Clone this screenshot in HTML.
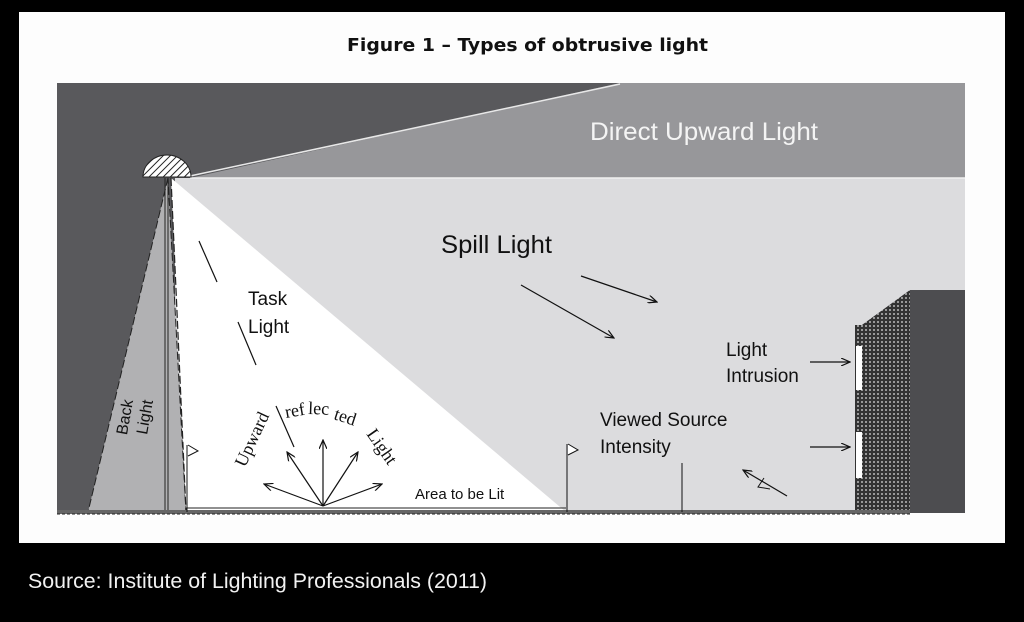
<!DOCTYPE html>
<html><head><meta charset="utf-8"><style>
html,body{margin:0;padding:0;background:#000;}
svg{display:block}
</style></head><body>
<svg width="1024" height="622" viewBox="0 0 1024 622" xmlns="http://www.w3.org/2000/svg" font-family="Liberation Sans, sans-serif">
<defs>
<pattern id="hatch" width="5" height="5" patternUnits="userSpaceOnUse" patternTransform="rotate(45)">
<rect width="5" height="5" fill="#fff"/><line x1="0" y1="0" x2="0" y2="5" stroke="#222" stroke-width="2"/></pattern>
<pattern id="brick" width="4" height="4" patternUnits="userSpaceOnUse">
<rect width="4" height="4" fill="#333"/><rect x="1" y="1" width="2" height="2" fill="#999"/></pattern>
<marker id="ah" markerWidth="10" markerHeight="8" refX="9" refY="4" orient="auto" markerUnits="userSpaceOnUse">
<path d="M0,0 L9,4 L0,8" fill="none" stroke="#111" stroke-width="1.2"/></marker>
</defs>
<rect x="0" y="0" width="1024" height="622" fill="#000"/>
<rect x="19" y="12" width="986" height="531" fill="#fdfdfd"/>
<text x="347" y="51" textLength="361" lengthAdjust="spacingAndGlyphs" font-family="DejaVu Sans Condensed, DejaVu Sans, sans-serif" font-weight="bold" font-size="18" fill="#111">Figure 1 – Types of obtrusive light</text>
<rect x="57" y="83" width="908" height="430" fill="#59595c"/>
<polygon points="190,178 620,83 965,83 965,178" fill="#97979a"/>
<line x1="190" y1="176" x2="620" y2="84" stroke="#e8e8e8" stroke-width="1.5"/>
<polygon points="175,178 965,178 965,290 910,290 862,325 855,325 855,513 175,513" fill="#dcdcde"/>
<line x1="190" y1="178" x2="965" y2="178" stroke="#f0f0f0" stroke-width="1.5"/>
<polygon points="168,178 88,512 186,512" fill="#b1b1b3" stroke="#222" stroke-width="1" stroke-dasharray="8,3"/>
<polygon points="171,178 186,512 566,512" fill="#ffffff"/>
<line x1="171" y1="178" x2="186" y2="512" stroke="#222" stroke-width="1.2" stroke-dasharray="8,3"/>
<line x1="165" y1="178" x2="165" y2="512" stroke="#222" stroke-width="1"/>
<line x1="168" y1="178" x2="168" y2="512" stroke="#222" stroke-width="1"/>
<path d="M143,177 A24,22 0 0 1 191,177 Z" fill="url(#hatch)" stroke="#222" stroke-width="1"/>
<line x1="199" y1="241" x2="217" y2="282" stroke="#111" stroke-width="1.2"/>
<line x1="238" y1="322" x2="256" y2="365" stroke="#111" stroke-width="1.2"/>
<line x1="276" y1="406" x2="294" y2="447" stroke="#111" stroke-width="1.2"/>
<rect x="910" y="290" width="55" height="223" fill="#4d4d50"/>
<polygon points="855,325 862,325 910,290 910,513 855,513" fill="url(#brick)"/>
<rect x="856" y="346" width="6" height="44" fill="#fff"/>
<rect x="856" y="432" width="6" height="46" fill="#fff"/>
<rect x="57" y="510" width="853" height="4" fill="#666"/>
<line x1="186" y1="508" x2="566" y2="508" stroke="#222" stroke-width="1"/>
<line x1="57" y1="514" x2="910" y2="514" stroke="#222" stroke-width="1" stroke-dasharray="3,2"/>
<line x1="187" y1="445" x2="187" y2="512" stroke="#111"/>
<path d="M188,445 L198,451 L188,456" fill="#fff" stroke="#111"/>
<line x1="567" y1="444" x2="567" y2="512" stroke="#111"/>
<path d="M568,444 L578,450 L568,455" fill="#fff" stroke="#111"/>
<line x1="682" y1="463" x2="682" y2="512" stroke="#111"/>
<g stroke="#111" stroke-width="1.2" marker-end="url(#ah)">
<line x1="323" y1="506" x2="264" y2="484"/>
<line x1="323" y1="506" x2="287" y2="452"/>
<line x1="323" y1="506" x2="323" y2="440"/>
<line x1="323" y1="506" x2="358" y2="452"/>
<line x1="323" y1="506" x2="382" y2="484"/>
<line x1="521" y1="285" x2="614" y2="338"/>
<line x1="581" y1="276" x2="657" y2="302"/>
<line x1="810" y1="362" x2="850" y2="362"/>
<line x1="810" y1="447" x2="850" y2="447"/>
<line x1="787" y1="496" x2="743" y2="470"/>
</g>
<path d="M764,478 L758,487 L770,489" fill="none" stroke="#111"/>
<text x="590" y="140" font-size="25" textLength="228" lengthAdjust="spacingAndGlyphs" fill="#f4f4f4">Direct Upward Light</text>
<text x="441" y="253" font-size="25" textLength="111" lengthAdjust="spacingAndGlyphs" fill="#111">Spill Light</text>
<text x="248" y="305" font-size="19" fill="#111">Task</text>
<text x="248" y="333" font-size="19" fill="#111">Light</text>
<text x="726" y="356" font-size="19" fill="#111">Light</text>
<text x="726" y="382" font-size="19" fill="#111">Intrusion</text>
<text x="600" y="426" font-size="19" fill="#111">Viewed Source</text>
<text x="600" y="453" font-size="19" fill="#111">Intensity</text>
<text x="415" y="499" font-size="15" fill="#111">Area to be Lit</text>
<text transform="translate(130,418) rotate(-80)" font-size="16" fill="#111" text-anchor="middle">Back</text>
<text transform="translate(150,418) rotate(-80)" font-size="16" fill="#111" text-anchor="middle">Light</text>
<g font-family="Liberation Serif, serif" font-size="18" fill="#111">
<text transform="translate(245,468) rotate(-65)">Upward</text>
<text transform="translate(286,418) rotate(-10)">ref</text>
<text transform="translate(308,414) rotate(2)">lec</text>
<text transform="translate(333,419) rotate(18)">ted</text>
<text transform="translate(366,434) rotate(55)">Light</text>
</g>
<text x="28" y="588" font-size="21" textLength="459" lengthAdjust="spacingAndGlyphs" fill="#f2f2f2">Source: Institute of Lighting Professionals (2011)</text>
</svg>
</body></html>
